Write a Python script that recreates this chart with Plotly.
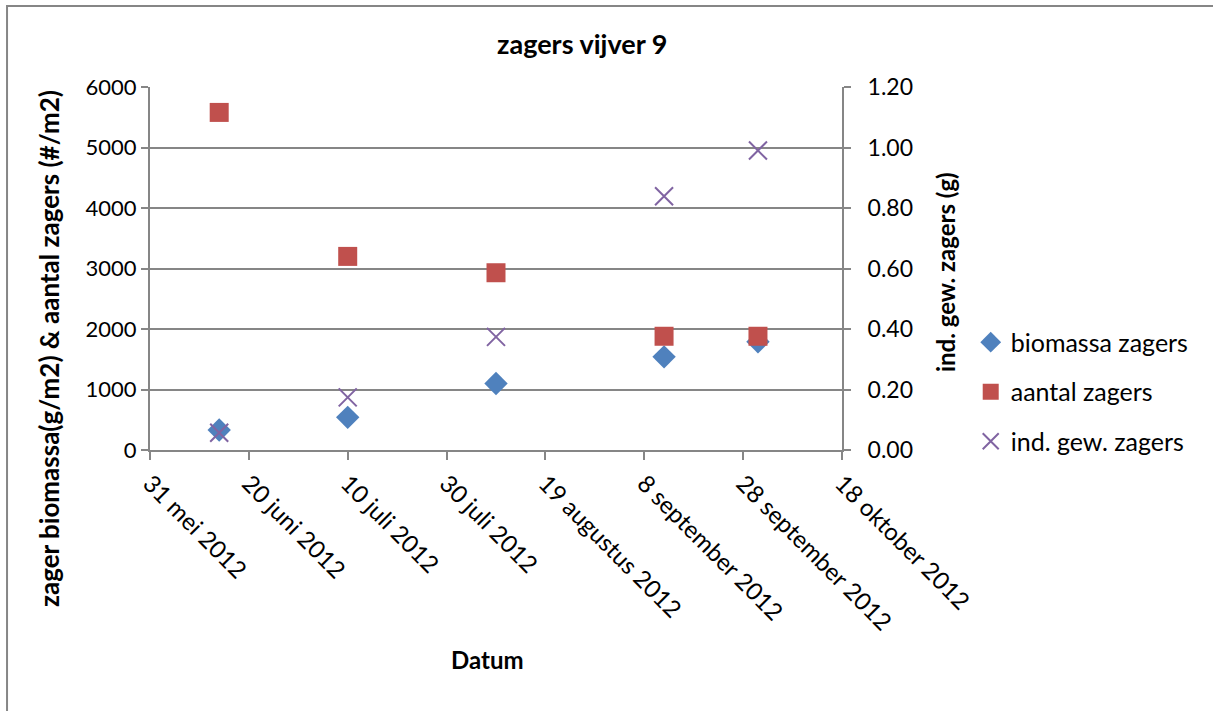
import plotly.graph_objects as go

# Sampling dates and measured values for pond 9
dates = ["2012-06-14", "2012-07-10", "2012-08-09", "2012-09-12", "2012-10-01"]
biomassa = [330, 540, 1100, 1540, 1790]          # g/m2
aantal = [5580, 3200, 2930, 1880, 1880]          # #/m2
ind_gew = [0.057, 0.174, 0.374, 0.839, 0.99]     # g

x_tickvals = ["2012-05-31", "2012-06-20", "2012-07-10", "2012-07-30",
              "2012-08-19", "2012-09-08", "2012-09-28", "2012-10-18"]
x_ticktext = ["31 mei 2012", "20 juni 2012", "10 juli 2012", "30 juli 2012",
              "19 augustus 2012", "8 september 2012", "28 september 2012",
              "18 oktober 2012"]

FONT = "Lato"
GRID = "#868686"

fig = go.Figure()
fig.add_trace(go.Scatter(
    x=dates, y=biomassa, mode="markers", name="biomassa zagers", legendgroup="a",
    marker=dict(symbol="diamond", size=18, color="#4F81BD"),
))
fig.add_trace(go.Scatter(
    x=dates, y=aantal, mode="markers", name="aantal zagers", legendgroup="b",
    marker=dict(symbol="square", size=19, color="#C0504D"),
))
fig.add_trace(go.Scatter(
    x=dates, y=ind_gew, mode="markers", name="ind. gew. zagers", yaxis="y2",
    legendgroup="c",
    marker=dict(symbol="x-thin", size=18, color="#8064A2",
                line=dict(color="#8064A2", width=2)),
))

axis_title_font = dict(size=24, family=FONT, color="black")

fig.update_layout(
    width=1213, height=711,
    paper_bgcolor="white", plot_bgcolor="white",
    margin=dict(l=150, r=371, t=87, b=261),
    font=dict(family=FONT, size=22, color="black"),
    title=dict(text="<b>zagers vijver 9</b>", x=0.48, xanchor="center",
               xref="container", y=0.938, yanchor="middle",
               font=dict(size=27, family=FONT)),
    showlegend=True,
    legend=dict(x=1.186, y=0.16, xanchor="left", yanchor="middle",
                font=dict(size=25, family=FONT), itemwidth=30,
                tracegroupgap=14, bgcolor="rgba(0,0,0,0)"),
    xaxis=dict(
        type="date", range=["2012-05-31", "2012-10-18"],
        tickvals=x_tickvals, ticktext=x_ticktext, tickangle=45,
        showgrid=False, showline=True, linecolor=GRID, linewidth=2,
        ticks="outside", ticklen=8, tickcolor=GRID, tickwidth=2,
        tickfont=dict(size=24, family=FONT),
        zeroline=False,
    ),
    yaxis=dict(
        range=[0, 6000], tickvals=[0, 1000, 2000, 3000, 4000, 5000, 6000],
        showgrid=True, gridcolor=GRID, gridwidth=2,
        showline=True, linecolor=GRID, linewidth=2,
        ticks="outside", ticklen=7, tickcolor=GRID, tickwidth=2,
        tickfont=dict(size=22, family=FONT),
        zeroline=False,
    ),
    yaxis2=dict(
        range=[0, 1.2], tickvals=[0, 0.2, 0.4, 0.6, 0.8, 1.0, 1.2],
        tickformat=".2f", overlaying="y", side="right",
        showgrid=False, showline=True, linecolor=GRID, linewidth=2,
        ticks="outside", ticklen=7, tickcolor=GRID, tickwidth=2,
        tickfont=dict(size=23, family=FONT), ticklabelstandoff=12,
        zeroline=False,
    ),
    annotations=[
        dict(text="<b>zager biomassa(g/m2) & aantal zagers (#/m2)</b>",
             xref="paper", yref="paper", x=-0.146, y=0.281, textangle=-90,
             xanchor="center", yanchor="middle", showarrow=False,
             font=dict(size=26, family=FONT, color="black")),
        dict(text="<b>ind. gew. zagers (g)</b>",
             xref="paper", yref="paper", x=1.1488, y=0.490, textangle=-90,
             xanchor="center", yanchor="middle", showarrow=False,
             font=axis_title_font),
        dict(text="<b>Datum</b>",
             xref="paper", yref="paper", x=0.487, y=-0.5785,
             xanchor="center", yanchor="middle", showarrow=False,
             font=axis_title_font),
    ],
    shapes=[dict(type="rect", xref="paper", yref="paper",
                 x0=-0.2066, x1=1.7, y0=-0.9, y1=1.223,
                 line=dict(color="#868686", width=2))],
)

fig.write_html("out.html")
